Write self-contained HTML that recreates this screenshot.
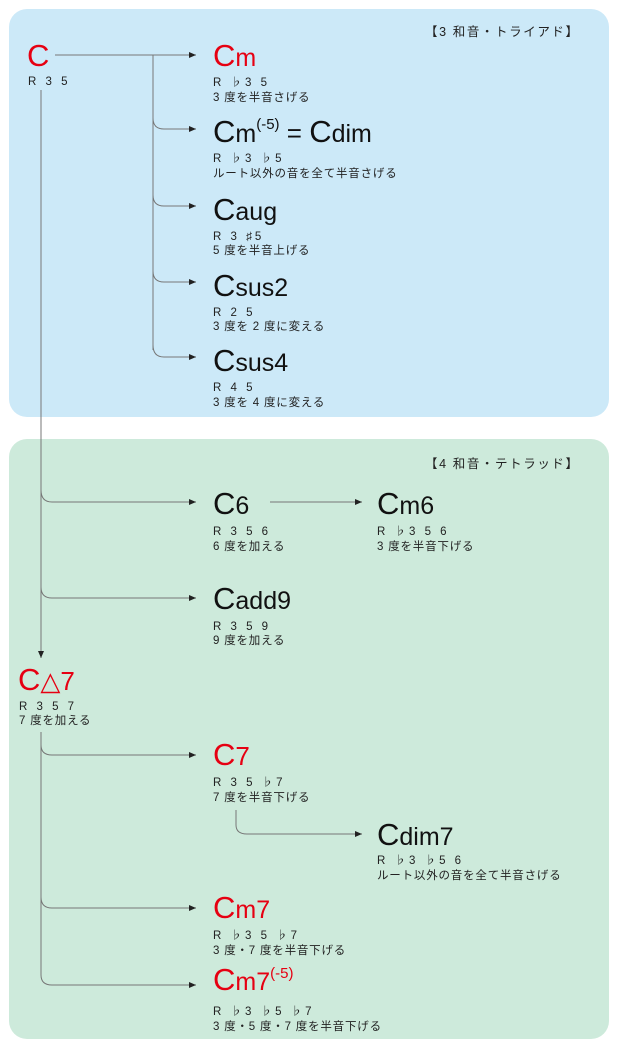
<!DOCTYPE html>
<html><head><meta charset="utf-8"><style>
html,body{margin:0;padding:0;background:#fff;}
svg{display:block}
.c{font-family:"Liberation Sans",sans-serif;}
.s{font-family:"Liberation Sans","Noto Sans CJK JP",sans-serif;font-size:11.5px;fill:#222;letter-spacing:0.8px}
.n{letter-spacing:3px}
.r{fill:#e60012}
.k{fill:#111}
</style></head><body>
<svg width="618" height="1048" viewBox="0 0 618 1048" xmlns="http://www.w3.org/2000/svg">
<defs><marker id="a" markerWidth="8" markerHeight="8" refX="7" refY="4" orient="auto" markerUnits="userSpaceOnUse"><path d="M0,1 L7,4 L0,7 Z" fill="#222"/></marker></defs>
<rect x="9" y="9" width="600" height="408" rx="18" fill="#cce9f8"/>
<rect x="9" y="439" width="600" height="600" rx="18" fill="#cdeadb"/>
<text x="425" y="36" class="s" style="font-size:12.5px;letter-spacing:1.6px">【3 和音・トライアド】</text>
<text x="425" y="468" class="s" style="font-size:12.5px;letter-spacing:1.6px">【4 和音・テトラッド】</text>
<g fill="none" stroke="#777" stroke-width="1">
<path d="M55 55 H196" marker-end="url(#a)"/>
<path d="M153 55 V350"/>
<path d="M153 118 Q153 129 164 129 H196" marker-end="url(#a)"/>
<path d="M153 195 Q153 206 164 206 H196" marker-end="url(#a)"/>
<path d="M153 271 Q153 282 164 282 H196" marker-end="url(#a)"/>
<path d="M153 345 Q153 357 164 357 H196" marker-end="url(#a)"/>
<path d="M41 90 V658" marker-end="url(#a)"/>
<path d="M41 490 Q41 502 52 502 H196" marker-end="url(#a)"/>
<path d="M41 587 Q41 598 52 598 H196" marker-end="url(#a)"/>
<path d="M270 502 H362" marker-end="url(#a)"/>
<path d="M41 732 V975 Q41 985 52 985 H196" marker-end="url(#a)"/>
<path d="M41 745 Q41 755 52 755 H196" marker-end="url(#a)"/>
<path d="M41 897 Q41 908 52 908 H196" marker-end="url(#a)"/>
<path d="M236 810 V825 Q236 834 247 834 H362" marker-end="url(#a)"/>
</g>
<g class="c">
<text x="27" y="66" class="r" font-size="31">C</text>
<text x="213" y="66" class="r"><tspan font-size="31">C</tspan><tspan font-size="25">m</tspan></text>
<text x="213" y="142" class="k"><tspan font-size="31">C</tspan><tspan font-size="25">m</tspan><tspan font-size="15" dy="-13">(-5)</tspan><tspan font-size="26" dy="13"> = </tspan><tspan font-size="31">C</tspan><tspan font-size="25">dim</tspan></text>
<text x="213" y="220" class="k"><tspan font-size="31">C</tspan><tspan font-size="25">aug</tspan></text>
<text x="213" y="296" class="k"><tspan font-size="31">C</tspan><tspan font-size="25">sus2</tspan></text>
<text x="213" y="371" class="k"><tspan font-size="31">C</tspan><tspan font-size="25">sus4</tspan></text>
<text x="213" y="514" class="k"><tspan font-size="31">C</tspan><tspan font-size="25">6</tspan></text>
<text x="377" y="514" class="k"><tspan font-size="31">C</tspan><tspan font-size="25">m6</tspan></text>
<text x="213" y="609" class="k"><tspan font-size="31">C</tspan><tspan font-size="25">add9</tspan></text>
<text x="18" y="690" class="r"><tspan font-size="31">C</tspan><tspan font-size="26">△7</tspan></text>
<text x="213" y="765" class="r"><tspan font-size="31">C</tspan><tspan font-size="26">7</tspan></text>
<text x="377" y="845" class="k"><tspan font-size="31">C</tspan><tspan font-size="25">dim7</tspan></text>
<text x="213" y="918" class="r"><tspan font-size="31">C</tspan><tspan font-size="25">m7</tspan></text>
<text x="213" y="990" class="r"><tspan font-size="31">C</tspan><tspan font-size="25">m7</tspan><tspan font-size="15" dy="-12">(-5)</tspan></text>
</g>
<g class="s">
<text x="28" y="85" class="n">R 3 5</text>
<text x="213" y="86" class="n">R ♭3 5</text><text x="213" y="101">3 度を半音さげる</text>
<text x="213" y="162" class="n">R ♭3 ♭5</text><text x="213" y="177">ルート以外の音を全て半音さげる</text>
<text x="213" y="240" class="n">R 3 ♯5</text><text x="213" y="254">5 度を半音上げる</text>
<text x="213" y="316" class="n">R 2 5</text><text x="213" y="330">3 度を 2 度に変える</text>
<text x="213" y="391" class="n">R 4 5</text><text x="213" y="406">3 度を 4 度に変える</text>
<text x="213" y="535" class="n">R 3 5 6</text><text x="213" y="550">6 度を加える</text>
<text x="377" y="535" class="n">R ♭3 5 6</text><text x="377" y="550">3 度を半音下げる</text>
<text x="213" y="630" class="n">R 3 5 9</text><text x="213" y="644">9 度を加える</text>
<text x="19" y="710" class="n">R 3 5 7</text><text x="19" y="724">7 度を加える</text>
<text x="213" y="786" class="n">R 3 5 ♭7</text><text x="213" y="801">7 度を半音下げる</text>
<text x="377" y="864" class="n">R ♭3 ♭5 6</text><text x="377" y="879">ルート以外の音を全て半音さげる</text>
<text x="213" y="939" class="n">R ♭3 5 ♭7</text><text x="213" y="954">3 度・7 度を半音下げる</text>
<text x="213" y="1015" class="n">R ♭3 ♭5 ♭7</text><text x="213" y="1030">3 度・5 度・7 度を半音下げる</text>
</g>
</svg>
</body></html>
